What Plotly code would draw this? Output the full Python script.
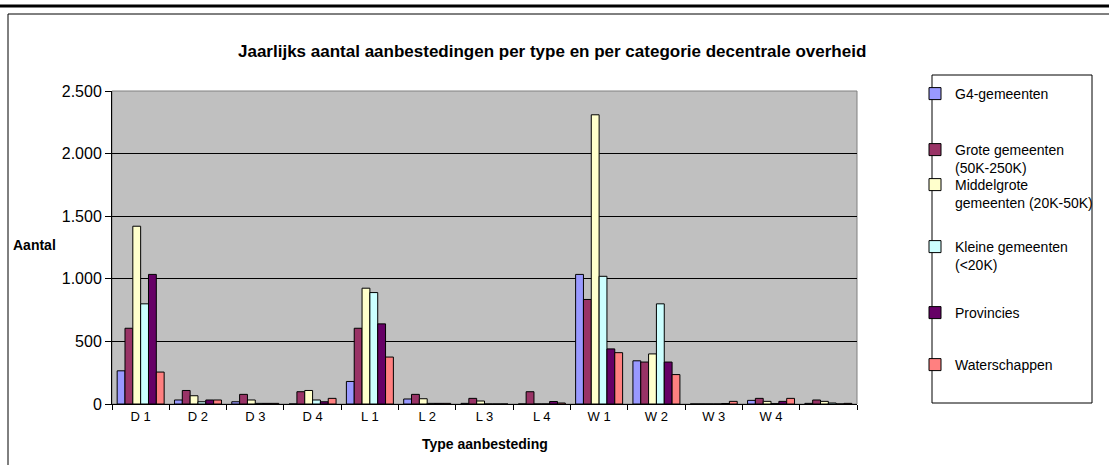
import plotly.graph_objects as go

W, H = 1109, 465
PL, PR, PT, PB = 112, 857, 91, 404   # plot area in pixels

categorieen = ["D 1", "D 2", "D 3", "D 4", "L 1", "L 2", "L 3", "L 4",
               "W 1", "W 2", "W 3", "W 4", " "]

g4 = [265, 32, 18, 0, 180, 40, 5, 0, 1035, 345, 0, 29, 5]
grote = [605, 108, 77, 98, 605, 77, 45, 98, 835, 335, 0, 45, 32]
middelgrote = [1420, 66, 32, 108, 925, 42, 24, 0, 2310, 400, 0, 21, 21]
kleine = [800, 18, 5, 32, 890, 5, 0, 0, 1020, 800, 0, 3, 8]
provincies = [1035, 32, 5, 18, 640, 5, 0, 20, 440, 335, 4, 21, 0]
waterschappen = [255, 32, 5, 45, 375, 5, 0, 8, 410, 235, 21, 45, 5]

reeksen = [
    ("G4-gemeenten", g4, "#9999FF", 93),
    ("Grote gemeenten<br>(50K-250K)", grote, "#993366", 149),
    ("Middelgrote<br>gemeenten (20K-50K)", middelgrote, "#FFFFCC", 184),
    ("Kleine gemeenten<br>(<20K)", kleine, "#CCFFFF", 246),
    ("Provincies", provincies, "#660066", 312),
    ("Waterschappen", waterschappen, "#FF8080", 364),
]


def px_x(x):
    return (x - PL) / (PR - PL)


def px_y(y):
    return (PB - y) / (PB - PT)


fig = go.Figure()
legends = {}
for i, (naam, waarden, kleur, ly) in enumerate(reeksen):
    key = "legend" if i == 0 else f"legend{i + 1}"
    fig.add_trace(go.Bar(x=categorieen, y=waarden, name=naam,
                         marker=dict(color=kleur, line=dict(color="black", width=1)),
                         legend=key))
    legends[key] = dict(x=px_x(915), y=px_y(ly - 15), xanchor="left", yanchor="top",
                        bgcolor="rgba(0,0,0,0)", borderwidth=0, valign="top",
                        font=dict(family="Liberation Sans, Arial", size=14, color="black"))

fig.update_layout(
    width=W, height=H,
    margin=dict(l=PL, r=W - PR, t=PT, b=H - PB, autoexpand=False),
    paper_bgcolor="white", plot_bgcolor="#C0C0C0",
    barmode="group", bargap=0.18, bargroupgap=0,
    separators=",.",
    font=dict(family="Liberation Sans, Arial", color="black"),
    xaxis=dict(tickson="boundaries", ticks="outside", ticklen=5, tickcolor="black",
               showline=True, linecolor="black", linewidth=1, showgrid=False,
               tickfont=dict(size=13), fixedrange=True),
    yaxis=dict(range=[0, 2500], dtick=500, tickformat=",d", ticks="outside",
               ticklen=6, tickcolor="black", showline=True, linecolor="black",
               linewidth=1, gridcolor="black", gridwidth=1, zeroline=False,
               tickfont=dict(size=16), fixedrange=True),
    showlegend=True,
    **legends,
)

# plot area border, legend box and chart frame
fig.add_shape(type="rect", xref="paper", yref="paper", x0=0, x1=1, y0=0, y1=1,
              line=dict(color="#808080", width=1), layer="below")
fig.add_shape(type="rect", xref="paper", yref="paper",
              x0=px_x(932), x1=px_x(1092), y0=px_y(403), y1=px_y(75),
              line=dict(color="black", width=1))
fig.add_shape(type="line", xref="paper", yref="paper",
              x0=px_x(0), x1=px_x(W), y0=px_y(6), y1=px_y(6),
              line=dict(color="black", width=3))
fig.add_shape(type="line", xref="paper", yref="paper",
              x0=px_x(8), x1=px_x(W), y0=px_y(14), y1=px_y(14),
              line=dict(color="black", width=1))
fig.add_shape(type="line", xref="paper", yref="paper",
              x0=px_x(8), x1=px_x(8), y0=px_y(14), y1=px_y(H),
              line=dict(color="black", width=1))

fig.add_annotation(text="<b>Jaarlijks aantal aanbestedingen per type en per categorie decentrale overheid</b>",
                   xref="paper", yref="paper", x=px_x(552), y=px_y(40),
                   showarrow=False, font=dict(size=17))
fig.add_annotation(text="<b>Aantal</b>", xref="paper", yref="paper",
                   x=px_x(11), y=px_y(245), xanchor="left", showarrow=False,
                   font=dict(size=14))
fig.add_annotation(text="<b>Type aanbesteding</b>", xref="paper", yref="paper",
                   x=px_x(485), y=px_y(454), showarrow=False, font=dict(size=14))

# page has a default body margin; remove it so the figure fills the window
fig.write_html("out.html", config={"displayModeBar": False},
               post_script="document.body.style.margin='0';")
